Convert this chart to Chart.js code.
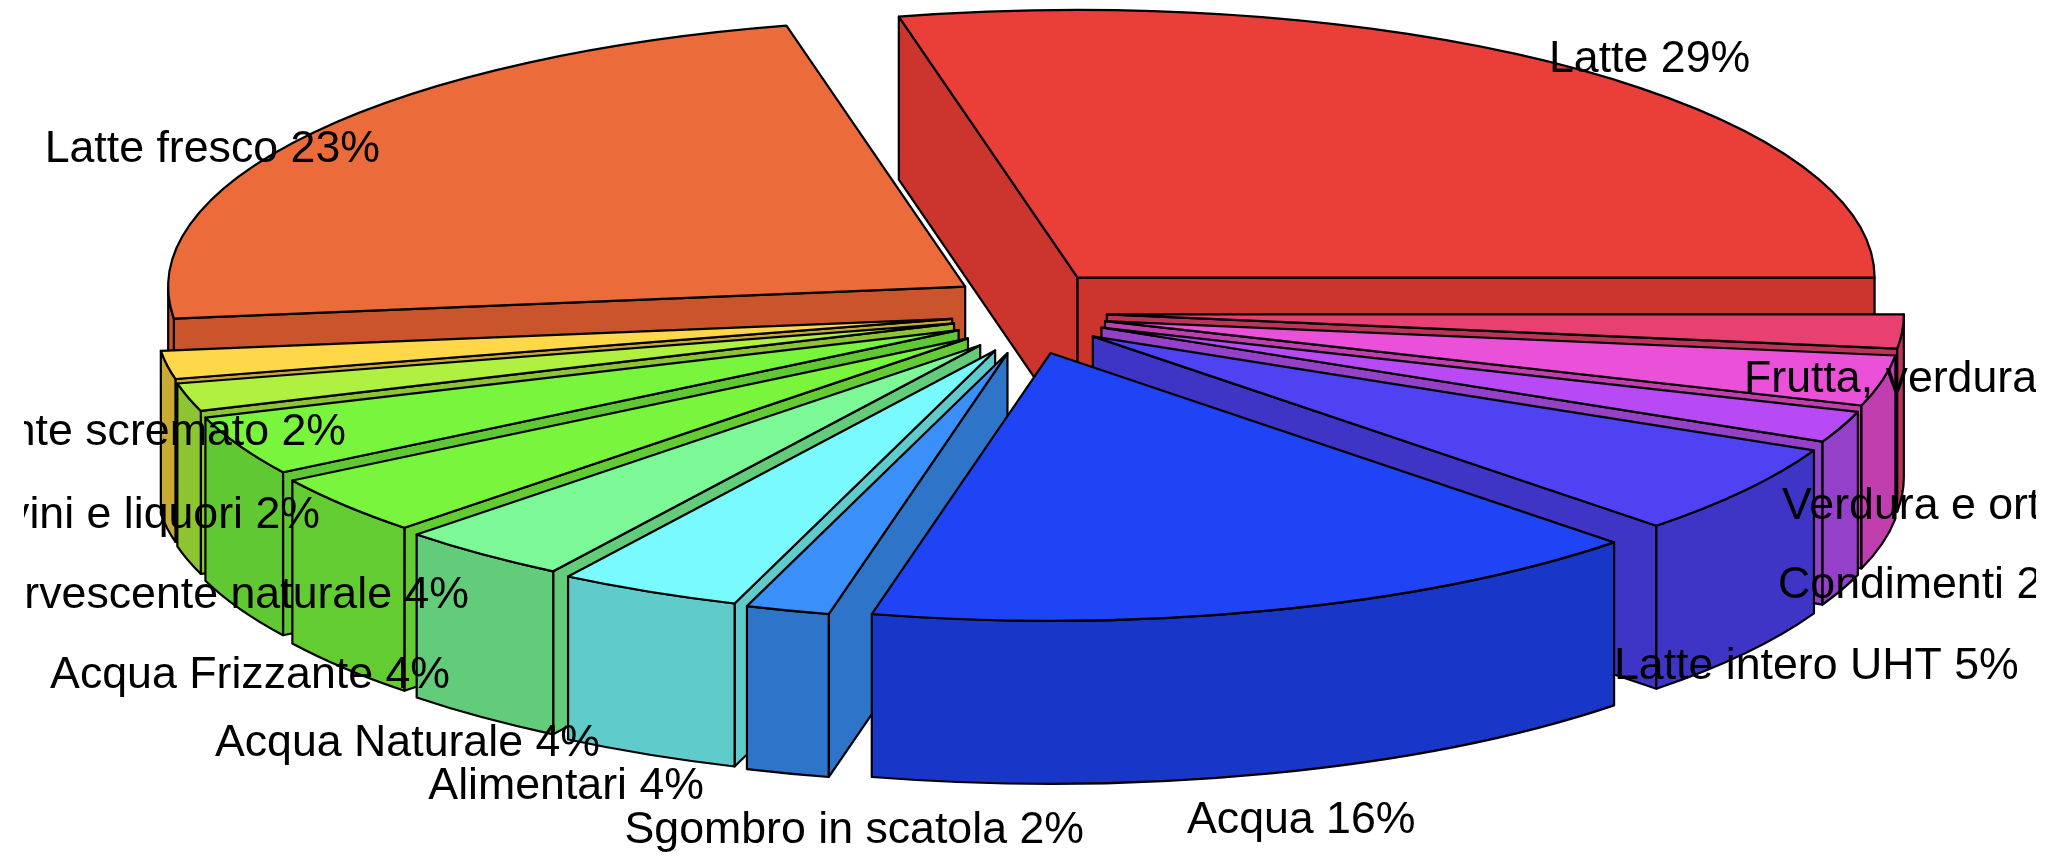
<!DOCTYPE html>
<html>
<head>
<meta charset="utf-8">
<style>
  html, body { margin: 0; padding: 0; background: #fff; overflow: hidden; }
  canvas { display: block; filter: blur(0.6px); }
</style>
<script src="https://cdn.jsdelivr.net/npm/chart.js@4/dist/chart.umd.js"></script>
</head>
<body>
<canvas id="myChart" width="2050" height="861"></canvas>
<script>
const categories = [
  "Latte", "Latte fresco", "Latte parzialmente scremato", "Birra, vini e liquori",
  "Acqua effervescente naturale", "Acqua Frizzante", "Acqua Naturale", "Alimentari",
  "Sgombro in scatola", "Acqua", "Latte intero UHT", "Condimenti",
  "Verdura e ortaggi", "Frutta, verdura",
];
// slice sizes
const values = [28.6, 23.3, 1.7, 1.7, 3.6, 3.6, 3.5, 3.7, 1.7, 16.1, 5.5, 1.9, 3.05, 2.05];
// percentages as printed in the labels
const printed = [29, 23, 2, 2, 4, 4, 4, 4, 2, 16, 5, 2, 3, 2];
const topColors = [
  "#EA3F38", "#EB6B3A", "#FFD84A", "#B0F040", "#78F53C", "#78F53C", "#7CF896",
  "#78FAFF", "#3A90F8", "#1E44F5", "#4E42F2", "#B84AF5", "#EA50D8", "#E84070",
];
const sideColors = [
  "#CC342E", "#CA552D", "#C9AA35", "#8CC432", "#5FC832", "#62CC32", "#62CC7A",
  "#5FCCCB", "#2E74C8", "#1836C8", "#3E35C6", "#9440C8", "#C03EAE", "#BC345A",
];
// label anchors: x is the text end on the left half and the text start on the right half
const labelX = [1549, 380, 346, 320, 469, 450, 600, 704, 1084, 1187, 1614, 1778, 1782, 1744];
const labelY = [60, 150, 433, 516, 596, 676, 744, 787, 831, 821, 667, 586, 507, 380];

const tilt = 0.336;
const depth = 163;
const explodeTilt = 0.554;

function slicePath(ctx, arc) {
  const p = arc.getProps(["x", "y", "startAngle", "endAngle", "outerRadius"], true);
  const mid = (p.startAngle + p.endAngle) / 2;
  const off = arc.options.offset;
  return {
    x: p.x + Math.cos(mid) * off,
    y: p.y - Math.sin(mid) * off * explodeTilt,
    t0: p.startAngle,
    t1: p.endAngle,
    a: p.outerRadius,
    b: p.outerRadius * tilt,
    mid: mid,
  };
}

function fillStroke(ctx, color) {
  ctx.closePath();
  ctx.fillStyle = color;
  ctx.fill();
  ctx.stroke();
}

function radialFace(ctx, s, t, color) {
  const ex = s.x + s.a * Math.cos(t);
  const ey = s.y - s.b * Math.sin(t);
  ctx.beginPath();
  ctx.moveTo(s.x, s.y);
  ctx.lineTo(ex, ey);
  ctx.lineTo(ex, ey + depth);
  ctx.lineTo(s.x, s.y + depth);
  fillStroke(ctx, color);
}

const pie3d = {
  id: "pie3d",
  beforeDatasetDraw(chart, args) {
    const ctx = chart.ctx;
    const arcs = args.meta.data;
    const slices = arcs.map((arc, i) => Object.assign(slicePath(ctx, arc), { i: i }));
    // back to front, and the right hand slices go over the left hand ones at the front
    const depthKey = (s) => Math.sin(s.mid) - 0.1 * Math.cos(s.mid);
    slices.sort((p, q) => depthKey(q) - depthKey(p));
    ctx.save();
    ctx.strokeStyle = "#000";
    ctx.lineWidth = 2.2;
    ctx.lineJoin = "round";
    slices.forEach((s) => {
      const side = sideColors[s.i];
      if (Math.cos(s.t1) < 0) radialFace(ctx, s, s.t1, side);
      if (Math.cos(s.t0) > 0) radialFace(ctx, s, s.t0, side);
      // outer wall, only the part that faces the viewer
      const from = Math.max(s.t0, Math.PI);
      const to = Math.min(s.t1, Math.PI * 2);
      if (from < to) {
        ctx.beginPath();
        ctx.ellipse(s.x, s.y, s.a, s.b, 0, -from, -to, true);
        ctx.ellipse(s.x, s.y + depth, s.a, s.b, 0, -to, -from, false);
        fillStroke(ctx, side);
      }
      ctx.beginPath();
      ctx.moveTo(s.x, s.y);
      ctx.ellipse(s.x, s.y, s.a, s.b, 0, -s.t0, -s.t1, true);
      fillStroke(ctx, topColors[s.i]);
    });
    ctx.restore();
    return false;
  },
  afterDatasetsDraw(chart) {
    const ctx = chart.ctx;
    const arcs = chart.getDatasetMeta(0).data;
    ctx.save();
    // the long labels are cut off at the sides of the plot
    ctx.beginPath();
    ctx.rect(24, 0, 2012, 861);
    ctx.clip();
    ctx.fillStyle = "#000";
    ctx.font = '44.7px "Liberation Sans", Arial, sans-serif';
    ctx.textBaseline = "middle";
    categories.forEach((name, i) => {
      const mid = (arcs[i].startAngle + arcs[i].endAngle) / 2;
      ctx.textAlign = Math.cos(mid) < 0 ? "right" : "left";
      ctx.fillText(name + " " + printed[i] + "%", labelX[i], labelY[i]);
    });
    ctx.restore();
  },
};

new Chart(document.getElementById("myChart"), {
  type: "pie",
  data: {
    labels: categories,
    datasets: [{ data: values, backgroundColor: topColors, offset: 78, borderWidth: 0 }],
  },
  options: {
    responsive: false,
    animation: false,
    devicePixelRatio: 1,
    rotation: 90,
    radius: 797,
    layout: { padding: { left: 8, bottom: 238 } },
    plugins: { legend: { display: false }, tooltip: { enabled: false } },
  },
  plugins: [pie3d],
});
</script>
</body>
</html>
